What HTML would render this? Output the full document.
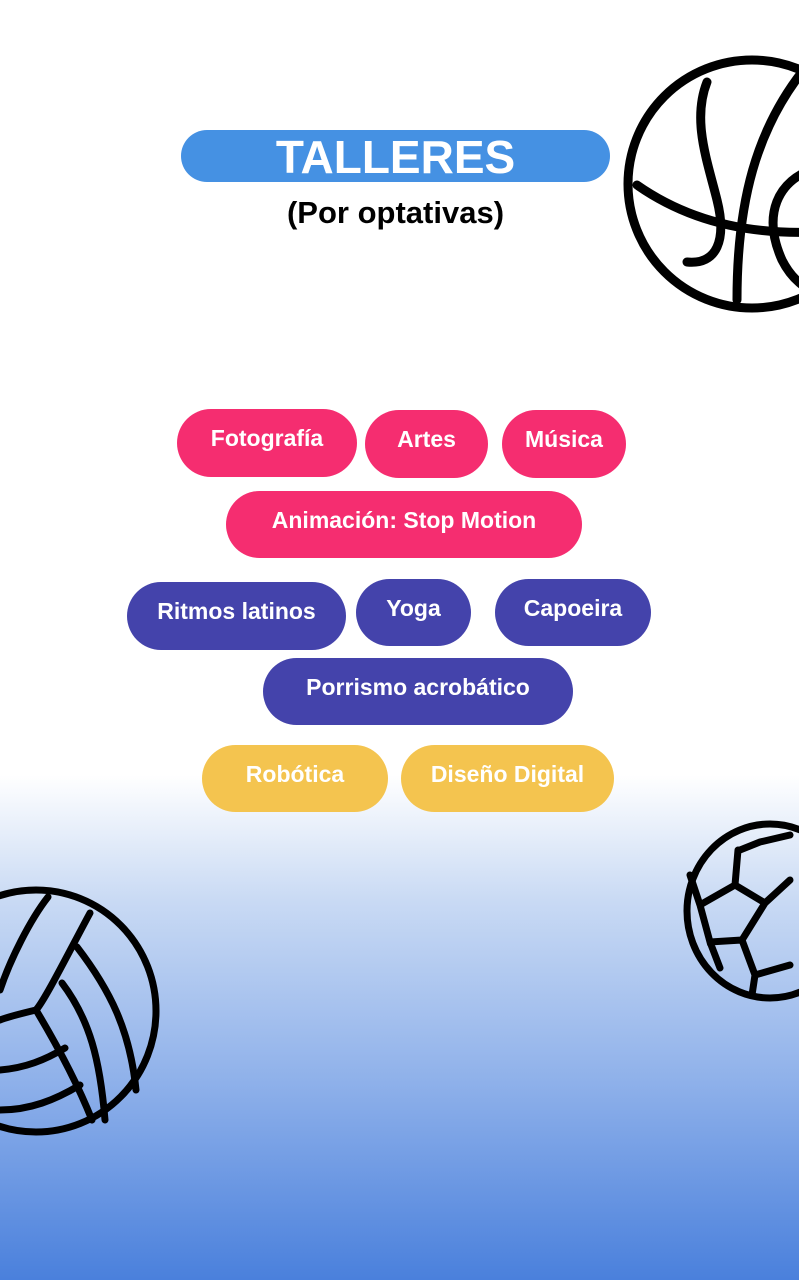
<!DOCTYPE html>
<html><head><meta charset="utf-8"><style>
html,body{margin:0;padding:0}
body{width:799px;height:1280px;position:relative;overflow:hidden;font-family:"Liberation Sans",sans-serif;
background:linear-gradient(to bottom,#fff 0,#fff 775px,#c9daf4 900px,#8fb1ea 1080px,#4a80dc 1280px)}
.p{position:absolute;border-radius:34px;color:#fff;font-weight:bold;font-size:23px;text-align:center;box-sizing:border-box;padding-top:16px}
.r{background:#f52d70}.b{background:#4443ab}.y{background:#f4c44f}
svg{position:absolute;left:0;top:0}
</style></head><body>
<div style="position:absolute;left:181px;top:130px;width:429px;height:52px;border-radius:26px;background:#4591e3;color:#fff;font-weight:bold;font-size:46px;text-align:center;line-height:54px">TALLERES</div>
<div style="position:absolute;left:181px;top:195px;width:429px;text-align:center;font-weight:bold;font-size:31px;color:#000">(Por optativas)</div>
<div class="p r" style="left:177px;top:409px;width:180px;height:68px">Fotografía</div>
<div class="p r" style="left:365px;top:410px;width:123px;height:68px">Artes</div>
<div class="p r" style="left:502px;top:410px;width:124px;height:68px">Música</div>
<div class="p r" style="left:226px;top:491px;width:356px;height:67px">Animación: Stop Motion</div>
<div class="p b" style="left:127px;top:582px;width:219px;height:68px">Ritmos latinos</div>
<div class="p b" style="left:356px;top:579px;width:115px;height:67px">Yoga</div>
<div class="p b" style="left:495px;top:579px;width:156px;height:67px">Capoeira</div>
<div class="p b" style="left:263px;top:658px;width:310px;height:67px">Porrismo acrobático</div>
<div class="p y" style="left:202px;top:745px;width:186px;height:67px">Robótica</div>
<div class="p y" style="left:401px;top:745px;width:213px;height:67px">Diseño Digital</div>
<svg width="799" height="1280" viewBox="0 0 799 1280" fill="none" stroke="#000" stroke-linecap="round">
<g stroke-width="9" transform="translate(17,0)">
<circle cx="735" cy="184" r="124"/>
<path d="M690 82 C675 120 690 160 700 200 C710 240 700 265 670 262"/>
<path d="M785 72 C740 130 720 200 720 300"/>
<path d="M620 185 C670 220 730 235 799 232"/>
<path d="M799 168 C760 180 745 215 765 260 C775 280 790 290 799 292"/>
</g>
<g stroke-width="7">
<ellipse cx="36" cy="1011" rx="120" ry="121"/>
<path d="M48 897 C30 920 10 960 0 990"/>
<path d="M90 913 C70 950 45 1000 36 1010"/>
<path d="M36 1010 C15 1015 5 1018 0 1020"/>
<path d="M77 947 C110 990 130 1030 136 1090"/>
<path d="M62 983 C90 1020 100 1060 105 1120"/>
<path d="M36 1010 C60 1050 80 1090 92 1120"/>
<path d="M0 1070 C25 1068 45 1060 65 1048"/>
<path d="M0 1110 C30 1110 55 1100 80 1085"/>
<ellipse cx="770" cy="911" rx="83" ry="87"/>
<path d="M738 850 L735 885 L765 903 L790 880 M765 903 L742 940 L755 975 L790 965 M742 940 L710 942 L700 905 L735 885 M755 975 L752 995 M700 905 L690 875 M740 850 L760 842 L790 835 M710 942 L720 968"/>
</g>
</svg>
</body></html>
